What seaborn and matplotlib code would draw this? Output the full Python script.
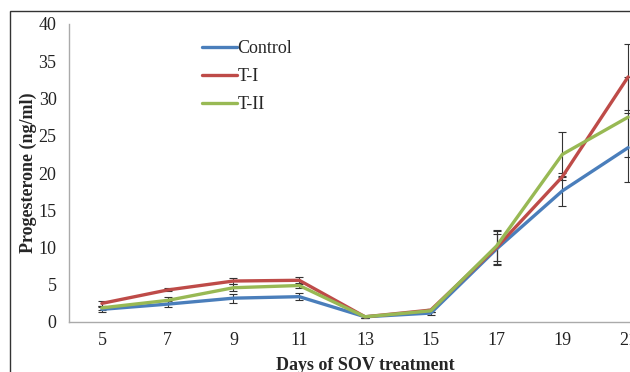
import numpy as np
import pandas as pd
import matplotlib
matplotlib.use("Agg")
import matplotlib.pyplot as plt
import seaborn as sns
from matplotlib.patches import Rectangle

days = ["5", "7", "9", "11", "13", "15", "17", "19", "21"]
control = [1.7, 2.4, 3.2, 3.4, 0.7, 1.2, 9.8, 17.6, 23.4]
t1 = [2.5, 4.3, 5.5, 5.6, 0.7, 1.6, 10.0, 19.5, 32.9]
t2 = [1.9, 2.9, 4.6, 4.9, 0.7, 1.5, 10.2, 22.5, 27.5]
control_err = [0.3, 0.4, 0.6, 0.5, 0.1, 0.2, 2.0, 2.0, 4.6]
t1_err = [0.3, 0.2, 0.4, 0.5, 0.1, 0.2, 2.4, 0.5, 4.4]
t2_err = [0.3, 0.4, 0.5, 0.4, 0.1, 0.2, 2.0, 3.0, 5.4]

groups = ["Control", "T-I", "T-II"]
colors = ["#4A7EBB", "#BE4B48", "#98B954"]

df = pd.DataFrame({
    "pos": list(range(len(days))) * 3,
    "value": control + t1 + t2,
    "err": control_err + t1_err + t2_err,
    "group": np.repeat(groups, len(days)),
})

sns.set_style("white")
plt.rcParams["font.family"] = ["Liberation Serif", "DejaVu Serif"]

fig = plt.figure(figsize=(6.3, 3.72), dpi=100)
ax = fig.add_axes([69 / 630, 1 - 322 / 372, 592 / 630, 298 / 372])

# outer frame (cropped on the right and bottom)
fig.patches.append(Rectangle((10 / 630, -0.2), 1.2, 1.2 - 11 / 372,
                             transform=fig.transFigure, fill=False,
                             edgecolor="#333333", linewidth=1.0))

sns.lineplot(data=df, x="pos", y="value", hue="group", palette=colors,
             linewidth=2.4, errorbar=None, ax=ax, legend=True)

for g in groups:
    sub = df[df["group"] == g]
    ax.errorbar(sub["pos"], sub["value"], yerr=sub["err"], fmt="none",
                ecolor="#333333", elinewidth=0.8, capsize=3, capthick=0.8,
                zorder=1)

ax.set_xlim(-0.5, len(days) - 0.5)
ax.set_ylim(0, 40)
ax.set_yticks(range(0, 41, 5))
ax.set_xticks(range(len(days)))
ax.set_xticklabels(days)
ax.set_xticks(np.arange(-0.5, len(days), 1.0), minor=True)
ax.tick_params(axis="x", which="major", length=0, labelsize=13, pad=7)
ax.tick_params(axis="x", which="minor", length=5, color="#AAAAAA", direction="out")
ax.tick_params(axis="y", length=5, color="#AAAAAA", direction="out", labelsize=13, pad=4)
ax.tick_params(axis="both", labelcolor="#222222")

for s in ["top", "right"]:
    ax.spines[s].set_visible(False)
for s in ["left", "bottom"]:
    ax.spines[s].set_color("#AAAAAA")
    ax.spines[s].set_linewidth(1.0)

ax.set_xlabel("Days of SOV treatment", fontsize=13, fontweight="bold", labelpad=6)
ax.set_ylabel("Progesterone (ng/ml)", fontsize=13, fontweight="bold", labelpad=1)

leg = ax.legend(loc="upper left", bbox_to_anchor=(0.198, 1.0), frameon=False,
                fontsize=13, handlelength=1.9, handletextpad=0.05,
                labelspacing=0.6)
for line in leg.get_lines():
    line.set_linewidth(2.4)

fig.savefig("out.png", dpi=100)
